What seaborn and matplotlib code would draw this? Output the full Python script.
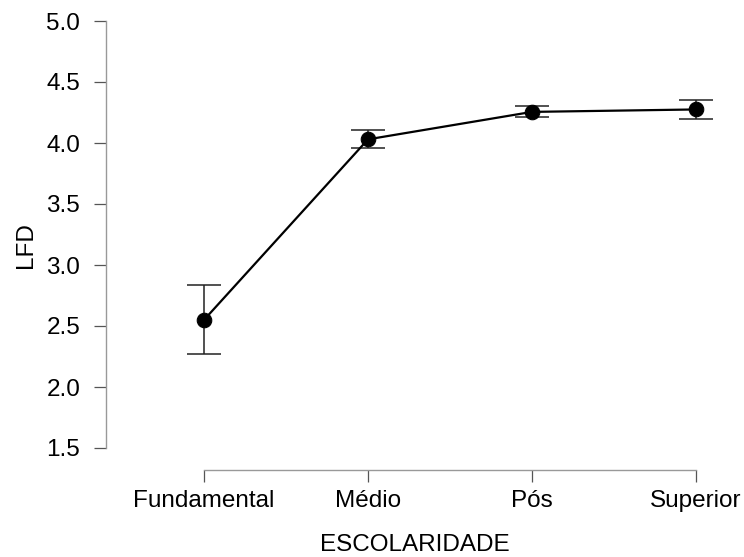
import pandas as pd
import seaborn as sns
import matplotlib.pyplot as plt

# Dados (médias e intervalos)
categorias = ['Fundamental', 'Médio', 'Pós', 'Superior']
medias = [2.55, 4.03, 4.255, 4.275]
ic_inferior = [2.27, 3.96, 4.21, 4.20]
ic_superior = [2.84, 4.11, 4.30, 4.35]
y_ticks = [1.5, 2.0, 2.5, 3.0, 3.5, 4.0, 4.5, 5.0]

df = pd.DataFrame({'ESCOLARIDADE': categorias, 'LFD': medias})
df['x'] = range(len(categorias))

sns.set_style("white")
plt.rcParams['font.family'] = ['Liberation Sans', 'DejaVu Sans']
plt.rcParams['text.color'] = 'black'
plt.rcParams['axes.labelcolor'] = 'black'

fig = plt.figure(figsize=(7.44, 5.57), dpi=100)
W, H = 744, 557
# área dos eixos em pixels: esquerda 106, direita 724, topo 21, base 470
ax = fig.add_axes([106 / W, 1 - 470 / H, (724 - 106) / W, (470 - 21) / H])

# barras de erro
ax.errorbar(df['x'], df['LFD'],
            yerr=[df['LFD'] - pd.Series(ic_inferior), pd.Series(ic_superior) - df['LFD']],
            fmt='none', ecolor='#222222', elinewidth=1.1, capsize=12, capthick=1.1, zorder=2)

sns.lineplot(data=df, x='x', y='LFD', color='black', linewidth=1.6,
             marker='o', markersize=10.5, markeredgecolor='black', ax=ax, zorder=3)

# escalas
ax.set_ylim(5.0 - (470 - 21) / 122.0, 5.0)
ax.set_xlim(-98 / 164.0, 3 + 28 / 164.0)
ax.set_yticks(y_ticks)
ax.set_yticklabels([f"{v:.1f}" for v in y_ticks])
ax.set_xticks(df['x'])
ax.set_xticklabels(categorias)

for s in ['top', 'right']:
    ax.spines[s].set_visible(False)
for s in ['left', 'bottom']:
    ax.spines[s].set_color('#999999')
    ax.spines[s].set_linewidth(1.0)
ax.spines['left'].set_bounds(1.5, 5.0)
ax.spines['bottom'].set_bounds(0, 3)

ax.tick_params(axis='both', direction='out', length=8.5, width=0.9, color='#555555',
               labelsize=17.5, labelcolor='black', left=True, bottom=True)
ax.tick_params(axis='y', pad=10)
ax.tick_params(axis='x', pad=6)

ax.set_xlabel('ESCOLARIDADE', fontsize=17.5, labelpad=16)
ax.set_ylabel('LFD', fontsize=17.5, labelpad=7)

plt.savefig('out.png', dpi=100)
